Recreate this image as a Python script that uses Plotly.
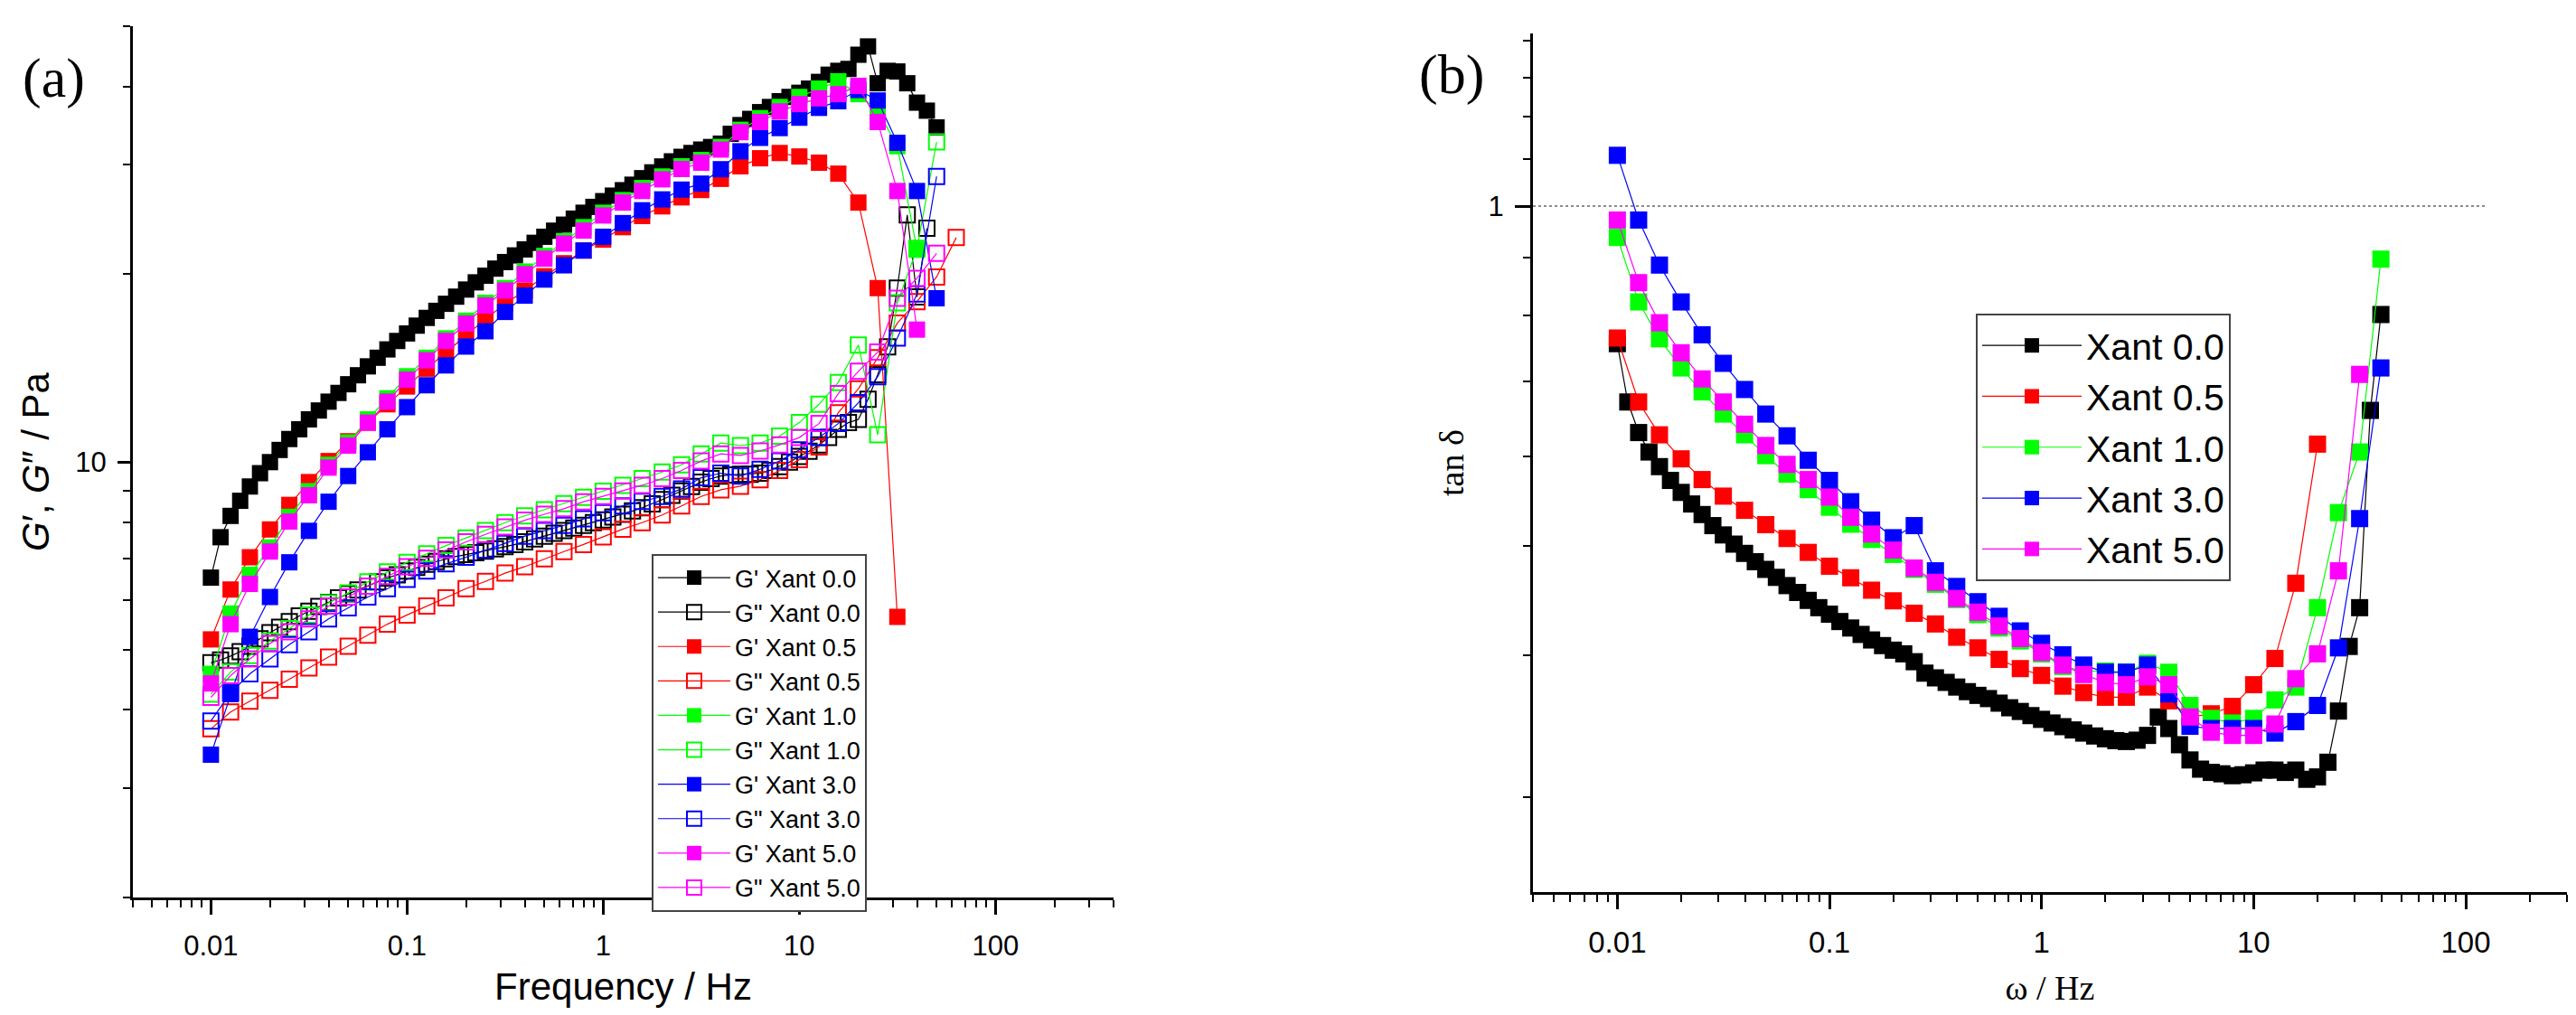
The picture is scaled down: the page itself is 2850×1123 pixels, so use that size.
import math
import plotly.graph_objects as go

# measured frequencies (Hz), 10 and 20 points per decade
FREQ_10 = [0.01, 0.0126, 0.0158, 0.02, 0.0251, 0.0316, 0.0398, 0.0501, 0.0631, 0.0794,
           0.1, 0.126, 0.158, 0.2, 0.251, 0.316, 0.398, 0.501, 0.631, 0.794,
           1, 1.26, 1.58, 2, 2.51, 3.16, 3.98, 5.01, 6.31, 7.94,
           10, 12.6, 15.8, 20, 25.1, 31.6, 39.8, 50.1, 63.1]
FREQ_20 = [0.01, 0.0112, 0.0126, 0.0141, 0.0158, 0.0178, 0.02, 0.0224, 0.0251, 0.0282,
           0.0316, 0.0355, 0.0398, 0.0447, 0.0501, 0.0562, 0.0631, 0.0708, 0.0794, 0.0891,
           0.1, 0.112, 0.126, 0.141, 0.158, 0.178, 0.2, 0.224, 0.251, 0.282,
           0.316, 0.355, 0.398, 0.447, 0.501, 0.562, 0.631, 0.708, 0.794, 0.891,
           1, 1.12, 1.26, 1.41, 1.58, 1.78, 2, 2.24, 2.51, 2.82,
           3.16, 3.55, 3.98, 4.47, 5.01, 5.62, 6.31, 7.08, 7.94, 8.91,
           10, 11.2, 12.6, 14.1, 15.8, 17.8, 20, 22.4, 25.1, 28.2,
           31.6, 35.5, 39.8, 44.7, 50.1]

# (a) storage G' and loss G'' moduli, Pa
G1_00 = [6.52, 7.57, 8.19, 8.66, 9.13, 9.59, 9.99, 10.45, 10.88, 11.28,
         11.70, 12.09, 12.49, 12.90, 13.32, 13.77, 14.23, 14.69, 15.15, 15.63,
         16.07, 16.54, 17.02, 17.47, 17.93, 18.41, 18.90, 19.41, 19.89, 20.42,
         20.92, 21.44, 21.92, 22.46, 22.97, 23.49, 24.02, 24.56, 25.10, 25.65,
         26.2, 26.74, 27.28, 27.84, 28.52, 29.14, 29.78, 30.35, 30.86, 31.3,
         31.7, 32.0, 32.4, 33.6, 34.7, 35.5, 36.4, 37.1, 37.9, 38.5,
         39.1, 39.7, 40.7, 41.8, 42.4, 42.7, 45.0, 46.4, 40.5, 42.4,
         42.3, 40.5, 37.7, 36.6, 34.4]
G2_00 = [4.76, 4.81, 4.88, 4.96, 5.06, 5.20, 5.32, 5.43, 5.54, 5.66,
         5.76, 5.86, 5.95, 6.05, 6.14, 6.23, 6.32, 6.42, 6.51, 6.59,
         6.68, 6.77, 6.85, 6.92, 6.99, 7.05, 7.10, 7.15, 7.19, 7.25,
         7.31, 7.37, 7.44, 7.52, 7.60, 7.68, 7.76, 7.83, 7.91, 7.99,
         8.07, 8.16, 8.24, 8.34, 8.44, 8.56, 8.70, 8.84, 8.98, 9.13,
         9.28, 9.40, 9.49, 9.53, 9.55, 9.55, 9.59, 9.69, 9.83, 9.99,
         10.2, 10.4, 10.65, 10.94, 11.28, 11.56, 11.7, 12.6, 13.8, 15.3,
         19.0, 24.9, 18.4, 23.7]
G1_05 = [5.19, 6.24, 7.03, 7.79, 8.53, 9.28, 10.03, 10.79, 11.56, 12.37,
         13.21, 14.11, 15.0, 15.95, 16.95, 17.93, 18.83, 19.85, 20.83, 21.83,
         22.73, 23.8, 24.8, 25.7, 26.57, 27.3, 28.45, 29.8, 30.7, 31.3,
         30.9, 30.2, 29.0, 26.06, 19.0, 5.64]
G2_05 = [3.73, 3.97, 4.13, 4.30, 4.48, 4.67, 4.86, 5.06, 5.27, 5.49,
         5.68, 5.87, 6.05, 6.26, 6.43, 6.63, 6.79, 6.99, 7.18, 7.37,
         7.58, 7.80, 7.99, 8.22, 8.50, 8.80, 9.02, 9.14, 9.36, 9.69,
         10.08, 10.57, 11.99, 13.1, 14.69, 16.7, 18.08, 19.8, 22.9]
G1_10 = [4.57, 5.71, 6.59, 7.29, 8.16, 8.97, 9.89, 10.74, 11.70, 12.65,
         13.72, 14.69, 15.78, 16.85, 18.0, 19.0, 20.2, 21.4, 22.6, 23.8,
         25.1, 26.3, 27.5, 28.7, 29.8, 30.5, 32.0, 34.1, 35.6, 37.1,
         38.5, 39.7, 40.8, 38.9, 36.6, 32.1, 21.9]
G2_10 = [4.24, 4.60, 4.89, 5.16, 5.40, 5.68, 5.94, 6.16, 6.42, 6.66,
         6.90, 7.12, 7.34, 7.55, 7.76, 7.99, 8.19, 8.38, 8.57, 8.77,
         8.97, 9.17, 9.40, 9.63, 9.89, 10.30, 10.72, 10.62, 10.72, 11.0,
         11.56, 12.37, 13.41, 15.4, 11.05, 18.0, 22.0, 32.6]
G1_30 = [3.39, 4.24, 5.24, 6.07, 6.90, 7.75, 8.63, 9.49, 10.36, 11.28,
         12.24, 13.27, 14.28, 15.31, 16.2, 17.40, 18.48, 19.61, 20.67, 21.83,
         22.97, 24.16, 25.33, 26.37, 27.34, 27.95, 29.48, 31.5, 33.1, 34.32,
         35.66, 36.98, 37.9, 39.5, 38.0, 32.5, 27.2, 18.3]
G2_30 = [3.84, 4.26, 4.57, 4.83, 5.09, 5.34, 5.60, 5.83, 6.07, 6.26,
         6.48, 6.68, 6.86, 7.03, 7.22, 7.40, 7.60, 7.76, 7.91, 8.10,
         8.29, 8.50, 8.64, 8.80, 9.05, 9.43, 9.59, 9.49, 9.73, 10.03,
         10.45, 10.94, 11.52, 12.44, 13.7, 15.8, 18.6, 28.7]
G1_50 = [4.41, 5.49, 6.37, 7.18, 8.02, 8.84, 9.79, 10.62, 11.56, 12.49,
         13.55, 14.55, 15.63, 16.67, 17.82, 18.83, 20.0, 21.18, 22.4, 23.5,
         24.85, 26.06, 27.2, 28.4, 29.5, 30.2, 31.7, 33.8, 35.1, 36.5,
         37.5, 38.3, 38.9, 40.1, 35.1, 27.2, 16.3]
G2_50 = [4.19, 4.54, 4.83, 5.11, 5.34, 5.60, 5.87, 6.07, 6.32, 6.55,
         6.79, 7.0, 7.22, 7.44, 7.65, 7.86, 8.06, 8.24, 8.41, 8.63,
         8.80, 8.98, 9.17, 9.40, 9.69, 10.03, 10.30, 10.24, 10.41, 10.65,
         10.94, 11.52, 12.87, 13.97, 15.0, 18.3, 19.7, 21.6]

# (b) loss tangent
TAN_00 = [0.7555, 0.6708, 0.6303, 0.6058, 0.5880, 0.5717, 0.5579, 0.5449, 0.5333, 0.5214,
          0.5116, 0.5021, 0.4927, 0.4844, 0.4769, 0.4692, 0.4614, 0.4550, 0.4477, 0.4411,
          0.4353, 0.4288, 0.4232, 0.4177, 0.4130, 0.4083, 0.4045, 0.4015, 0.3951, 0.3860,
          0.3823, 0.3788, 0.3752, 0.3717, 0.3689, 0.3665, 0.3631, 0.3597, 0.3570, 0.3540,
          0.3513, 0.3487, 0.3461, 0.3438, 0.3416, 0.3396, 0.3377, 0.3364, 0.3358, 0.3367,
          0.3400, 0.3530, 0.3448, 0.3336, 0.3234, 0.3174, 0.3153, 0.3144, 0.3132, 0.3138,
          0.3150, 0.3168, 0.3168, 0.3153, 0.3168, 0.3109, 0.3124, 0.3219, 0.3573, 0.4076,
          0.4411, 0.6594, 0.8017]
TAN_05 = [0.7642, 0.6708, 0.6274, 0.5974, 0.5727, 0.5537, 0.5379, 0.5224, 0.5079, 0.4937,
          0.4800, 0.4688, 0.4571, 0.4473, 0.4361, 0.4267, 0.4153, 0.4064, 0.3970, 0.3896,
          0.3842, 0.3759, 0.3710, 0.3675, 0.3675, 0.3752, 0.3648, 0.3530, 0.3553, 0.3607,
          0.3770, 0.3977, 0.4636, 0.6156]
TAN_10 = [0.9381, 0.8225, 0.7630, 0.7190, 0.6847, 0.6545, 0.6274, 0.6013, 0.5791, 0.5611,
          0.5413, 0.5229, 0.5069, 0.4917, 0.4769, 0.4627, 0.4485, 0.4349, 0.4232, 0.4122,
          0.4015, 0.3913, 0.3876, 0.3876, 0.3869, 0.3938, 0.3867, 0.3614, 0.3520, 0.3487,
          0.3520, 0.3655, 0.3752, 0.4411, 0.5354, 0.6058, 0.8975]
TAN_30 = [1.109, 0.972, 0.8867, 0.8225, 0.7693, 0.7258, 0.6881, 0.6545, 0.6261, 0.5957,
          0.5717, 0.5474, 0.5273, 0.5087, 0.5214, 0.4755, 0.4606, 0.4465, 0.4334, 0.4207,
          0.4102, 0.4007, 0.3924, 0.3867, 0.3867, 0.3924, 0.3700, 0.3464, 0.3448, 0.3448,
          0.3448, 0.3416, 0.3497, 0.3614, 0.4064, 0.5289, 0.7190]
TAN_50 = [0.972, 0.8555, 0.7884, 0.7416, 0.7031, 0.6708, 0.6411, 0.6139, 0.5907, 0.5727,
          0.5526, 0.5303, 0.5125, 0.4960, 0.4782, 0.4645, 0.4494, 0.4371, 0.4249, 0.4142,
          0.4026, 0.3924, 0.3849, 0.3788, 0.3770, 0.3831, 0.3770, 0.3530, 0.3422, 0.3400,
          0.3400, 0.3480, 0.3817, 0.4015, 0.4755, 0.7096]

# tan delta = 1 reference line
REF_X = [0.004, 126]
REF_Y = [1, 1]

SANS = "Liberation Sans, Arial, sans-serif"
SERIF = "Liberation Serif, Times New Roman, serif"
NARROW = "Liberation Sans Narrow, Liberation Sans, Arial, sans-serif"

fig = go.Figure()

panel_a = [
    ("G' Xant 0.0", FREQ_20, G1_00, "#000000", "square"),
    ('G" Xant 0.0', FREQ_20, G2_00, "#000000", "square-open"),
    ("G' Xant 0.5", FREQ_10, G1_05, "#ff0000", "square"),
    ('G" Xant 0.5', FREQ_10, G2_05, "#ff0000", "square-open"),
    ("G' Xant 1.0", FREQ_10, G1_10, "#00ff00", "square"),
    ('G" Xant 1.0', FREQ_10, G2_10, "#00ff00", "square-open"),
    ("G' Xant 3.0", FREQ_10, G1_30, "#0000ff", "square"),
    ('G" Xant 3.0', FREQ_10, G2_30, "#0000ff", "square-open"),
    ("G' Xant 5.0", FREQ_10, G1_50, "#ff00ff", "square"),
    ('G" Xant 5.0', FREQ_10, G2_50, "#ff00ff", "square-open"),
]
for name, freq, vals, color, symbol in panel_a:
    is_open = "open" in symbol
    fig.add_trace(go.Scatter(
        x=freq[:len(vals)], y=vals, name=name, mode="lines+markers",
        line=dict(color=color, width=1.2),
        marker=dict(symbol=symbol, size=17 if is_open else 18, color=color,
                    line=dict(color=color, width=2 if is_open else 0)),
        xaxis="x", yaxis="y", legend="legend",
    ))

fig.add_trace(go.Scatter(
    x=REF_X, y=REF_Y, mode="lines", showlegend=False, hoverinfo="skip",
    line=dict(color="#666666", width=1.5, dash="dot"), xaxis="x2", yaxis="y2",
))

panel_b = [
    ("Xant 0.0", FREQ_20, TAN_00, "#000000"),
    ("Xant 0.5", FREQ_10, TAN_05, "#ff0000"),
    ("Xant 1.0", FREQ_10, TAN_10, "#00ff00"),
    ("Xant 3.0", FREQ_10, TAN_30, "#0000ff"),
    ("Xant 5.0", FREQ_10, TAN_50, "#ff00ff"),
]
for name, freq, vals, color in panel_b:
    fig.add_trace(go.Scatter(
        x=freq[:len(vals)], y=vals, name=name, mode="lines+markers",
        line=dict(color=color, width=1.2),
        marker=dict(symbol="square", size=19, color=color, line=dict(width=0)),
        xaxis="x2", yaxis="y2", legend="legend2",
    ))

minor_x = [d * 10 ** e for e in range(-3, 3) for d in range(2, 10)]
minor_style = dict(ticks="outside", ticklen=8, tickwidth=2, tickcolor="black", tickmode="array")

axis_common = dict(
    type="log", showline=True, linecolor="black", linewidth=3, mirror=False,
    showgrid=False, zeroline=False, ticks="outside", ticklen=16, tickwidth=2.5,
    tickcolor="black", tickmode="array",
)

fig.update_layout(
    width=2850, height=1123,
    margin=dict(l=0, r=0, t=0, b=0),
    paper_bgcolor="white", plot_bgcolor="white",
    xaxis=dict(
        axis_common, domain=[139 / 2850, 1224 / 2850], anchor="y",
        range=[math.log10(0.004), math.log10(400)],
        tickvals=[0.01, 0.1, 1, 10, 100], ticktext=["0.01", "0.1", "1", "10", "100"],
        tickfont=dict(family=SANS, size=31, color="black"), ticklabelstandoff=8,
        minor=dict(minor_style, tickvals=minor_x),
        title=dict(text="Frequency / Hz", font=dict(family=SANS, size=42, color="black"),
                   standoff=14),
    ),
    yaxis=dict(
        axis_common, domain=[1 - 985 / 1123, 1 - 21 / 1123], anchor="x",
        range=[math.log10(2), math.log10(50)],
        tickvals=[10], ticktext=["10"], ticklen=14,
        tickfont=dict(family=SANS, size=31, color="black"), ticklabelstandoff=6,
        minor=dict(minor_style, tickvals=[2, 3, 4, 5, 6, 7, 8, 9, 20, 30, 40, 50]),
        title=dict(text="<i>G</i>′, <i>G</i>″ / Pa",
                   font=dict(family=SANS, size=42, color="black"), standoff=16),
    ),
    xaxis2=dict(
        axis_common, domain=[1688 / 2850, 2832 / 2850], anchor="y2",
        range=[math.log10(0.004), math.log10(300)],
        tickvals=[0.01, 0.1, 1, 10, 100], ticktext=["0.01", "0.1", "1", "10", "100"],
        tickfont=dict(family=NARROW, size=33, color="black"), ticklabelstandoff=8,
        minor=dict(minor_style, tickvals=minor_x),
        title=dict(text="ω / Hz", font=dict(family=SERIF, size=38, color="black"),
                   standoff=20),
    ),
    yaxis2=dict(
        axis_common, domain=[1 - 979 / 1123, 1 - 29 / 1123], anchor="x2",
        range=[-0.6072, 0.1528],
        tickvals=[1], ticktext=["1"], ticklen=17,
        tickfont=dict(family=SANS, size=31, color="black"), ticklabelstandoff=6,
        minor=dict(minor_style,
                   tickvals=[0.3, 0.4, 0.5, 0.6, 0.7, 0.8, 0.9, 1.1, 1.2, 1.3, 1.4]),
        title=dict(text="tan δ", font=dict(family=SERIF, size=38, color="black"),
                   standoff=16),
    ),
    legend=dict(
        x=713 / 2850, y=1 - 605 / 1123, xanchor="left", yanchor="top",
        bgcolor="white", bordercolor="#444444", borderwidth=2, itemwidth=80,
        font=dict(family=SANS, size=27, color="black"), tracegroupgap=0,
    ),
    legend2=dict(
        x=2178 / 2850, y=1 - 339 / 1123, xanchor="left", yanchor="top",
        bgcolor="white", bordercolor="#444444", borderwidth=2, itemwidth=110,
        font=dict(family=SANS, size=41, color="black"), tracegroupgap=0,
    ),
    annotations=[
        dict(text="(a)", x=52 / 2850, y=1 - 78 / 1123, xref="paper", yref="paper",
             xanchor="center", yanchor="middle", showarrow=False,
             font=dict(family=SERIF, size=62, color="black")),
        dict(text="(b)", x=1598 / 2850, y=1 - 75 / 1123, xref="paper", yref="paper",
             xanchor="center", yanchor="middle", showarrow=False,
             font=dict(family=SERIF, size=62, color="black")),
    ],
)

fig.write_html("out.html")
